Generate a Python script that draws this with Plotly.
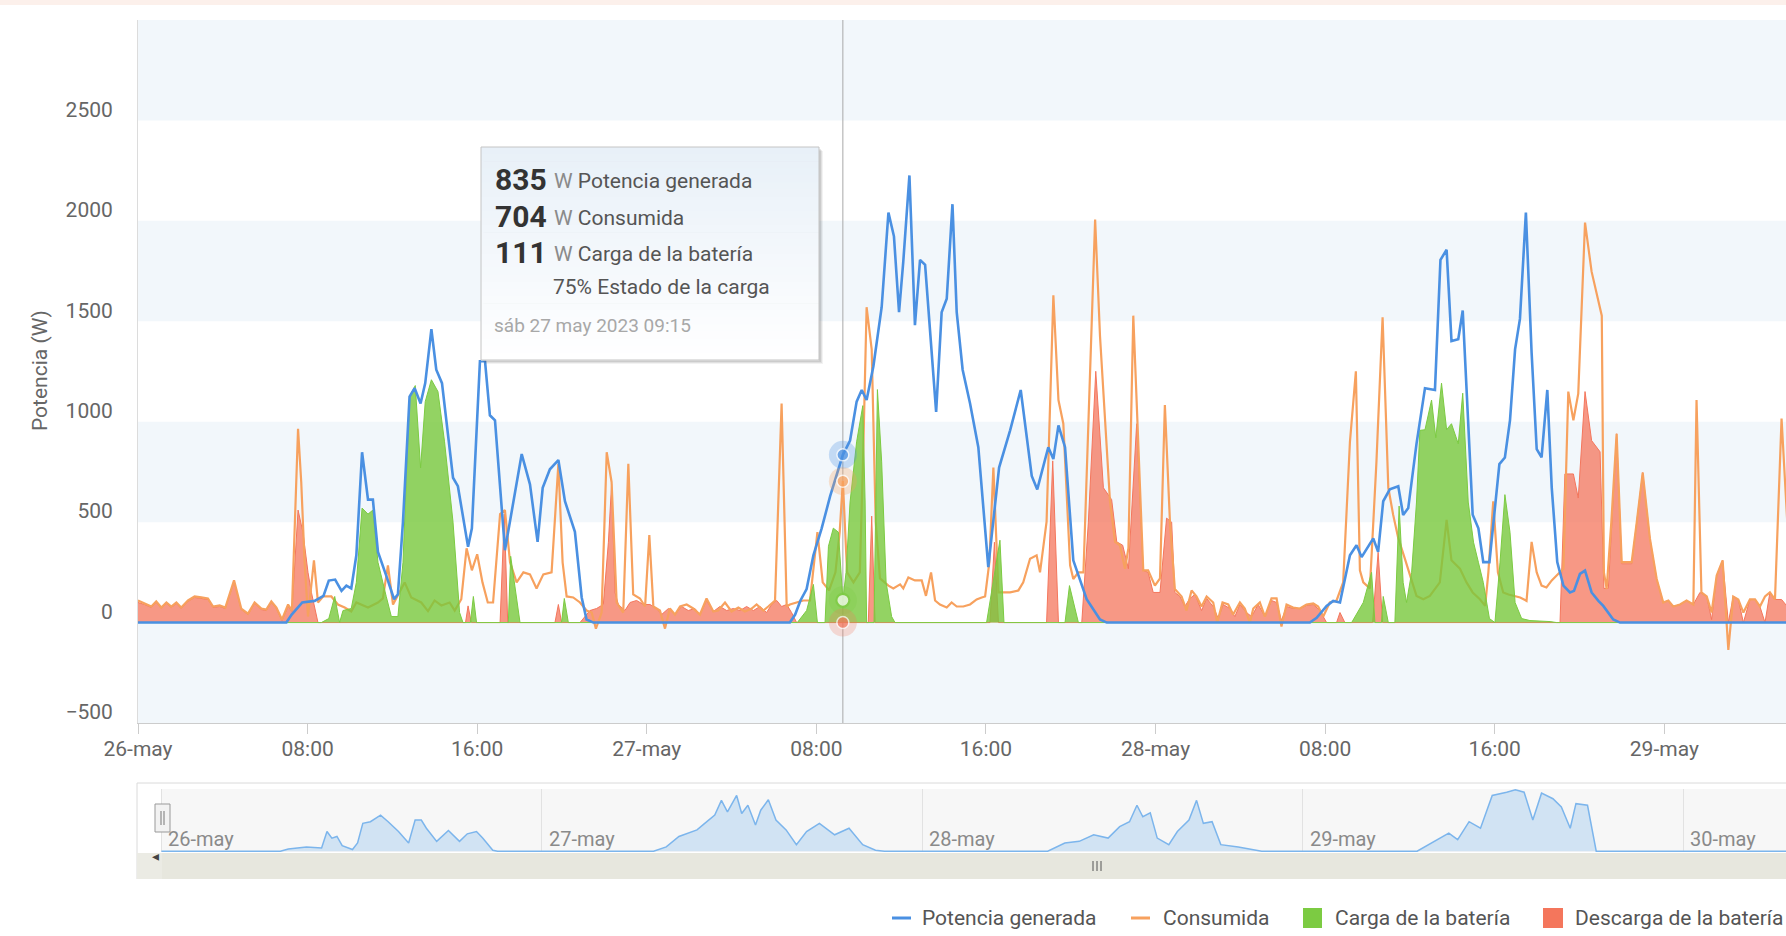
import pandas as pd
import plotly.graph_objects as go

START = pd.Timestamp("2023-05-26 00:00")

# ---------------- data (hours since 26-may 00:00, watts) ----------------
GEN_H = [0, 7.0, 7.25, 7.75, 8.33, 8.75, 9.0, 9.3, 9.6, 9.83, 10.06, 10.3, 10.57, 10.85, 11.08, 11.32, 11.71,
         12.08, 12.26, 12.5, 12.81, 13.05, 13.33, 13.55, 13.84, 14.07, 14.34, 14.86, 15.09, 15.57, 15.75, 16.13,
         16.37, 16.6, 16.84, 17.31, 18.1, 18.49, 18.85, 19.09, 19.43, 19.83, 20.14, 20.61, 20.93, 21.16, 21.48,
         30.75, 31.0, 31.25, 31.54, 31.86, 32.25, 32.65, 33.25, 33.59, 33.9, 34.14, 34.37, 34.69, 35.08, 35.4,
         35.66, 35.9, 36.1, 36.39, 36.65, 36.89, 37.13, 37.65, 37.91, 38.15, 38.42, 38.62, 38.9, 39.25, 39.64,
         40.11, 40.62, 41.14, 41.64, 42.16, 42.42, 42.94, 43.18, 43.42, 43.73, 44.12, 44.75, 45.38, 45.7,
         55.28, 55.6, 56.07, 56.38, 56.7, 57.17, 57.48, 57.72, 58.27, 58.5, 58.74, 59.05, 59.45, 59.68, 59.92,
         60.31, 60.71, 61.18, 61.44, 61.73, 61.96, 62.28, 62.49, 62.96, 63.23, 63.46, 63.75, 64.22, 64.48, 64.72,
         64.96, 65.19, 65.47, 65.74, 65.98, 66.21, 66.48, 66.69, 66.95, 67.24, 67.55, 67.74, 68.02, 68.26, 68.57,
         68.89, 69.12, 69.59, 69.91, 77.8]
GEN_W = [0, 0, 40, 100, 108, 133, 209, 214, 158, 184, 170, 335, 848, 612, 612, 352, 234,
         116, 141, 503, 1125, 1167, 1091, 1192, 1461, 1259, 1192, 721, 679, 377, 469, 1301,
         1301, 1032, 1007, 360, 839, 688, 402, 671, 763, 809, 604, 452, 125, 15, 0,
         0, 40, 110, 167, 335, 469, 629, 835, 906, 1100, 1158, 1108, 1276, 1570, 2041,
         1923, 1545, 1797, 2226, 1481, 1806, 1781, 1049, 1545, 1612, 2083, 1545, 1259, 1091, 873,
         276, 772, 957, 1158, 730, 663, 873, 814, 982, 873, 310, 116, 15, 0,
         0, 24, 83, 108, 100, 335, 385, 326, 419, 352, 604, 663, 679, 536, 570,
         890, 1167, 1158, 1806, 1856, 1402, 1411, 1554, 537, 469, 301, 301, 789, 822, 1007,
         1360, 1512, 2041, 1343, 864, 822, 1158, 671, 301, 184, 150, 158, 242, 259, 150,
         108, 83, 15, 0, 0]

CONS_H = [0, 0.31, 0.63, 0.86, 1.1, 1.34, 1.57, 1.81, 2.04, 2.36, 2.67, 2.99, 3.3, 3.54, 3.85, 4.12, 4.53, 4.87,
          5.19, 5.5, 5.82, 6.05, 6.29, 6.53, 6.79, 7.08, 7.26, 7.55, 7.7, 7.86, 8.02, 8.3, 8.49, 8.73, 9.12, 9.43,
          9.75, 10.06, 10.3, 10.85, 11.32, 11.55, 11.79, 12.03, 12.58, 12.89, 13.36, 13.68, 13.99, 14.31, 14.7,
          14.94, 15.25, 15.5, 15.75, 16.0, 16.25, 16.5, 16.75, 17.08, 17.31, 17.55, 17.86, 18.18, 18.49, 18.8,
          19.12, 19.51, 19.83, 20.03, 20.22, 20.53, 20.85, 21.16, 21.4, 21.6, 21.87, 22.11, 22.34, 22.58, 22.89,
          23.13, 23.36, 23.68, 23.92, 24.12, 24.31, 24.62, 24.86, 25.09, 25.33, 25.57, 25.88, 26.19, 26.51, 26.82,
          27.14, 27.37, 27.69, 28.0, 28.32, 28.63, 28.95, 29.18, 29.5, 29.73, 30.05, 30.36, 30.6, 30.75, 31.07,
          31.38, 31.7, 32.05, 32.3, 32.6, 32.9, 33.1, 33.25, 33.45, 33.75, 34.05, 34.2, 34.37, 34.61, 34.8, 35.0,
          35.4, 35.63, 35.95, 36.1, 36.34, 36.65, 36.97, 37.17, 37.41, 37.6, 37.83, 38.15, 38.38, 38.62, 38.93,
          39.25, 39.56, 39.8, 39.96, 40.16, 40.35, 40.59, 40.82, 41.14, 41.53, 41.76, 42.08, 42.39, 42.55, 42.86,
          43.18, 43.42, 43.65, 43.81, 43.97, 44.12, 44.36, 44.6, 44.91, 45.15, 45.38, 45.62, 45.85, 46.09, 46.32,
          46.56, 46.72, 46.95, 47.18, 47.42, 47.65, 47.97, 48.21, 48.44, 48.68, 48.91, 49.23, 49.46, 49.7, 49.93,
          50.17, 50.41, 50.72, 50.91, 51.16, 51.43, 51.66, 51.98, 52.21, 52.45, 52.61, 52.92, 53.16, 53.47, 53.71,
          53.94, 54.18, 54.49, 54.81, 55.12, 55.44, 55.67, 55.91, 56.22, 56.54, 56.85, 57.17, 57.45, 57.64, 57.8,
          58.11, 58.42, 58.71, 58.98, 59.21, 59.45, 59.76, 60.0, 60.31, 60.63, 60.94, 61.41, 61.73, 61.96, 62.36,
          62.67, 62.96, 63.3, 63.55, 63.7, 63.93, 64.15, 64.4, 64.65, 64.96, 65.2, 65.5, 65.74, 65.98, 66.21,
          66.44, 66.69, 66.92, 67.24, 67.47, 67.71, 67.94, 68.26, 68.57, 69.05, 69.15, 69.28, 69.5, 69.75, 69.99,
          70.46, 70.7, 70.98, 71.32, 71.64, 71.95, 72.19, 72.42, 72.74, 73.05, 73.37, 73.52, 73.75, 74.0, 74.23,
          74.47, 74.75, 75.02, 75.25, 75.49, 75.73, 76.04, 76.28, 76.51, 76.75, 76.98, 77.22, 77.53, 77.8]
CONS_W = [110, 95, 80, 105, 75, 100, 80, 100, 75, 110, 130, 125, 120, 80, 85, 75, 210, 70,
          45, 100, 70, 65, 105, 75, 15, 90, 60, 965, 700, 300, 30, 310, 100, 130, 130, 90,
          75, 55, 100, 75, 100, 120, 285, 90, 200, 125, 100, 57, 110, 85, 100,
          60, 116, 370, 260, 340, 200, 100, 100, 540, 560, 300, 200, 250, 240, 170,
          240, 250, 789, 300, 130, 125, 100, 60, 50, -30, 50, 848, 700, 100, 50,
          790, 140, 120, 80, 436, 80, 60, -30, 70, 40, 80, 90, 70, 40, 120,
          55, 60, 100, 55, 75, 55, 70, 90, 60, 80, 110, 1091, 80, 90, 100,
          110, 110, 450, 200, 160, 250, 450, 704, 250, 200, 250, 800, 1570, 1360, 500, 220,
          184, 170, 190, 170, 225, 210, 210, 133, 250, 110, 90, 75, 100, 80, 80,
          90, 115, 125, 130, 300, 772, 150, 150, 150, 160, 200, 318, 335, 250, 503,
          1629, 1108, 990, 671, 285, 217, 250, 250, 1200, 2007, 1427, 1007, 604, 402, 385,
          268, 370, 1528, 900, 260, 260, 184, 220, 1083, 500, 167, 130, 60, 160, 130,
          80, 130, 100, 0, 100, 90, 40, 100, 70, 0, 70, 100, 30, 120, 120,
          -20, 90, 75, 70, 90, 95, 80, 30, 100, 110, 200, 900, 1251, 260, 200,
          170, 800, 1520, 671, 536, 420, 318, 234, 133, 116, 133, 200, 511, 310, 268,
          200, 150, 116, 83, 250, 604, 250, 150, 140, 133, 125, 108, 402, 250, 184,
          175, 210, 234, 268, 1150, 1007, 1140, 1991, 1747, 1528, 250, 167, 500, 940, 301,
          301, 500, 747, 419, 217, 100, 110, 80, 90, 110, 90, 1108, 150, 130, 50,
          234, 310, -136, 130, 115, 50, 115, 115, 80, 130, 150, 115, 1016, 500]

CHG_H = [0, 8.65, 9.0, 9.28, 9.51, 9.67, 10.06, 10.3, 10.57, 10.85, 11.08, 11.32, 11.71, 11.95, 12.26, 12.5,
         12.81, 13.08, 13.33, 13.55, 13.84, 14.15, 14.46, 14.86, 15.17, 15.33, 15.68, 15.82, 15.97, 17.47, 17.58,
         18.02, 19.98, 20.11, 20.3, 31.1, 31.54, 31.86, 32.05, 32.41, 32.57, 32.8, 33.04, 33.25, 33.4, 33.59,
         33.9, 34.19, 34.3, 34.37, 34.72, 34.88, 35.08, 35.29, 35.55, 35.71, 40.03, 40.66, 40.85, 43.73, 43.94,
         44.36, 57.25, 57.8, 58.19, 58.35, 58.66, 58.74, 58.98, 59.29, 59.49, 59.68, 59.84, 60.08, 60.31, 60.47,
         60.71, 61.02, 61.22, 61.49, 61.73, 61.96, 62.28, 62.49, 62.75, 63.0, 63.23, 63.46, 63.75, 64.01, 64.25,
         64.48, 64.72, 64.96, 65.27, 65.66, 66.61, 66.92, 77.8]
CHG_W = [0, 0, 20, 130, 0, 60, 70, 200, 570, 540, 560, 300, 130, 30, 30, 300,
         1125, 1180, 770, 1100, 1209, 1150, 900, 500, 50, 0, 0, 130, 0, 0, 330,
         0, 0, 120, 0, 0, 60, 190, 0, 0, 380, 470, 450, 111, 250, 600,
         900, 1080, 600, 0, 0, 1160, 800, 200, 30, 0, 0, 410, 0, 0, 184,
         0, 0, 100, 250, 0, 0, 130, 0, 0, 580, 200, 100, 250, 600, 957,
         960, 1108, 920, 1192, 960, 990, 890, 1142, 600, 400, 300, 200, 20, 0, 300,
         637, 450, 100, 20, 10, 5, 0, 0]

DIS_H = [0, 0.31, 0.63, 0.86, 1.1, 1.34, 1.57, 1.81, 2.04, 2.36, 2.67, 2.99, 3.3, 3.54, 3.85, 4.12, 4.53, 4.87,
         5.19, 5.5, 5.82, 6.05, 6.29, 6.53, 6.79, 7.08, 7.26, 7.55, 7.78, 8.02, 8.18, 8.49, 15.45, 15.57, 15.72,
         17.08, 17.28, 17.44, 19.67, 19.83, 19.98, 20.85, 21.08, 21.32, 21.63, 21.95, 22.19, 22.34, 22.5, 22.66,
         22.97, 23.21, 23.52, 23.84, 24.15, 24.47, 24.7, 25.02, 25.33, 25.64, 25.96, 26.27, 26.51, 26.82, 27.14,
         27.45, 27.77, 28.08, 28.4, 28.71, 29.03, 29.34, 29.65, 29.89, 30.13, 30.36, 30.6, 30.83, 31.07, 34.45,
         34.61, 34.77, 40.19, 40.4, 40.59, 42.86, 43.15, 43.42, 44.52, 44.83, 45.18, 45.54, 45.93, 46.17, 46.45,
         46.72, 47.11, 47.42, 47.65, 47.89, 48.21, 48.52, 48.76, 48.91, 49.15, 49.38, 49.62, 49.86, 50.17, 50.41,
         50.72, 50.96, 51.19, 51.51, 51.74, 51.98, 52.29, 52.53, 52.84, 53.16, 53.47, 53.71, 53.94, 54.18, 54.49,
         54.81, 55.12, 55.44, 55.75, 56.07, 56.54, 56.7, 56.93, 58.24, 58.5, 58.71, 67.08, 67.31, 67.71, 67.94,
         68.26, 68.57, 68.97, 69.15, 69.36, 69.75, 69.99, 70.46, 70.98, 71.32, 71.64, 71.95, 72.19, 72.42, 72.74,
         73.05, 73.37, 73.68, 74.0, 74.23, 74.47, 74.75, 75.02, 75.25, 75.49, 75.73, 76.04, 76.28, 76.51, 76.75,
         76.98, 77.22, 77.53, 77.8]
DIS_W = [100, 90, 75, 100, 70, 95, 75, 95, 70, 105, 125, 120, 115, 75, 80, 70, 205, 65,
         40, 95, 65, 60, 100, 70, 10, 80, 55, 560, 450, 250, 150, 0, 0, 83, 0,
         0, 540, 0, 0, 90, 0, 0, 30, 60, 70, 90, 400, 690, 150, 90,
         60, 100, 110, 90, 90, 70, 40, 70, 40, 80, 60, 70, 40, 110, 55,
         80, 60, 70, 60, 80, 60, 80, 50, 90, 110, 80, 90, 50, 0, 0,
         530, 0, 0, 400, 0, 0, 805, 0, 0, 500, 1251, 671, 612, 402, 385,
         268, 990, 260, 250, 150, 150, 520, 500, 150, 130, 80, 120, 140, 60, 120,
         80, 20, 90, 70, 30, 90, 50, 30, 90, 30, 110, 100, 10, 80, 70,
         70, 85, 90, 60, 0, 0, 50, 0, 0, 350, 0, 0, 740, 740, 620,
         1150, 906, 850, 170, 170, 940, 293, 293, 747, 419, 217, 100, 110, 80, 90,
         110, 90, 150, 130, 15, 234, 310, 0, 130, 115, 0, 115, 115, 80, 0,
         150, 115, 115, 80]

NAV_H = [0, 7.5, 8.0, 9.15, 10.1, 10.44, 10.75, 11.07, 11.4, 12.05, 12.37, 12.7, 13.18, 13.82, 14.3, 14.95,
         15.59, 16.0, 16.39, 16.71, 17.36, 18.1, 18.8, 19.29, 19.87, 20.26, 20.9, 21.2, 31.04, 31.84, 32.64,
         33.78, 34.4, 34.9, 35.32, 35.7, 36.28, 36.6, 36.99, 37.47, 37.8, 38.28, 38.76, 39.4, 40.05, 40.69,
         41.5, 42.46, 43.37, 44.23, 45.04, 45.6, 55.9, 56.98, 57.89, 58.8, 59.71, 60.44, 61.06, 61.53, 61.9,
         62.37, 62.81, 63.54, 64.08, 64.81, 65.29, 65.72, 66.27, 66.82, 67.92, 68.7, 69.4, 79.2, 80.48, 81.2,
         81.76, 82.48, 83.2, 83.94, 84.85, 85.4, 85.95, 86.5, 87.05, 87.77, 88.3, 88.86, 89.22, 89.95, 90.5,
         102.5]
NAV_W = [0, 0, 70, 135, 100, 620, 413, 465, 176, 52, 258, 878, 930, 1137, 930, 620,
         258, 982, 982, 723, 310, 651, 310, 548, 620, 413, 31, 0, 0, 135, 465,
         672, 930, 1137, 1602, 1240, 1757, 1188, 1447, 827, 1292, 1623, 982, 672, 207, 620,
         878, 517, 723, 207, 31, 0, 0, 258, 310, 517, 413, 775, 930, 1447, 1085,
         1209, 413, 207, 620, 982, 1602, 878, 930, 207, 135, 52, 0, 0, 362, 568,
         362, 930, 723, 1757, 1860, 1932, 1860, 982, 1829, 1653, 1395, 723, 1498, 1447, 0,
         0]

X_TICK_H = [0, 8, 16, 24, 32, 40, 48, 56, 64, 72]
X_TICK_TEXT = ["26-may", "08:00", "16:00", "27-may", "08:00", "16:00", "28-may", "08:00", "16:00", "29-may"]
Y_TICKS = [-500, 0, 500, 1000, 1500, 2000, 2500]
Y_TICK_TEXT = ["\u2212500", "0", "500", "1000", "1500", "2000", "2500"]
BANDS = [-500, 500, 1500, 2500]
NAV_DAY_H = [0, 24, 48, 72, 96]
NAV_DAY_TEXT = ["26-may", "27-may", "28-may", "29-may", "30-may"]

VIEW_H = [0, 77.74]
NAV_VIEW_H = [-1.48, 102.47]

SERIES = ["Potencia generada", "Consumida", "Carga de la batería", "Descarga de la batería"]
TIP_H = 33.25
TIP_VALUES = [835, 704, 111]
TIP_DIS = 0
TIP_SOC = 75
TIP_DATE = "sáb 27 may 2023 09:15"

# ---------------- styling ----------------
BLUE = "#4A90E2"
ORANGE = "#F7A15E"
GREEN = "#7CCB42"
RED = "#F4765C"
FONT = "Roboto, 'Open Sans', sans-serif"
GRAY_TXT = "#666666"

W, H = 1786, 936
L, R, T, B = 138, 0, 20, 84
PW, PH = W - L - R, H - T - B


def px(x):
    return (x - L) / PW


def py(y):
    return (H - B - y) / PH


def ts(hours):
    return [START + pd.Timedelta(hours=h) for h in hours]


fig = go.Figure()

# discharge area
fig.add_trace(go.Scatter(x=ts(DIS_H), y=DIS_W, mode="lines", fill="tozeroy", name=SERIES[3],
                         line=dict(color=RED, width=1), fillcolor="rgba(244,118,92,0.75)",
                         showlegend=False, hoverinfo="skip"))
# consumption line
fig.add_trace(go.Scatter(x=ts(CONS_H), y=CONS_W, mode="lines", name=SERIES[1],
                         line=dict(color=ORANGE, width=2.2), showlegend=False, hoverinfo="skip"))
# charge area
fig.add_trace(go.Scatter(x=ts(CHG_H), y=CHG_W, mode="lines", fill="tozeroy", name=SERIES[2],
                         line=dict(color=GREEN, width=1), fillcolor="rgba(120,200,60,0.80)",
                         showlegend=False, hoverinfo="skip"))
# generation line
fig.add_trace(go.Scatter(x=ts(GEN_H), y=GEN_W, mode="lines", name=SERIES[0],
                         line=dict(color=BLUE, width=2.6), showlegend=False, hoverinfo="skip"))

# hover markers at the tooltip time
tip_t = ts([TIP_H])[0]
tip_vals = TIP_VALUES + [TIP_DIS]
halo_cols = ["rgba(74,144,226,0.28)", "rgba(247,161,94,0.28)", "rgba(124,203,66,0.25)", "rgba(244,118,92,0.25)"]
fig.add_trace(go.Scatter(x=[tip_t] * 4, y=tip_vals, mode="markers", showlegend=False, hoverinfo="skip",
                         marker=dict(size=28, color=halo_cols, line=dict(width=0)), cliponaxis=False))
fig.add_trace(go.Scatter(x=[tip_t] * 4, y=tip_vals, mode="markers", showlegend=False, hoverinfo="skip",
                         marker=dict(size=[12, 12, 13, 12], color=[BLUE, ORANGE, "#ffffff", RED],
                                     line=dict(width=[1.5, 1.5, 2.2, 1.5],
                                               color=["#ffffff", "#ffffff", GREEN, "#ffffff"])),
                         cliponaxis=False))

# navigator series
fig.add_trace(go.Scatter(x=ts(NAV_H), y=NAV_W, mode="lines", fill="tozeroy", xaxis="x2", yaxis="y2",
                         line=dict(color="#7CB5EC", width=1.5), fillcolor="rgba(124,181,236,0.30)",
                         showlegend=False, hoverinfo="skip"))

shapes = []
# top strip
shapes.append(dict(type="rect", xref="paper", yref="paper", x0=px(0), x1=px(W), y0=py(5), y1=py(0),
                   fillcolor="#FCF0EB", line=dict(width=0), layer="below"))
# alternating bands
for lo in BANDS:
    shapes.append(dict(type="rect", xref="paper", yref="y", x0=0, x1=1, y0=lo, y1=lo + 500,
                       fillcolor="#F2F7FB", line=dict(width=0), layer="below"))
# crosshair
shapes.append(dict(type="line", xref="x", yref="paper", x0=tip_t, x1=tip_t, y0=py(723), y1=1,
                   line=dict(color="#A8A8A8", width=1), layer="below"))

# navigator frame
shapes.append(dict(type="rect", xref="paper", yref="paper", x0=px(162), x1=px(W), y0=py(852), y1=py(789),
                   fillcolor="#F7F7F7", line=dict(width=0), layer="below"))
shapes.append(dict(type="line", xref="paper", yref="paper", x0=px(137), x1=px(W), y0=py(783), y1=py(783),
                   line=dict(color="#DADADA", width=1)))
shapes.append(dict(type="line", xref="paper", yref="paper", x0=px(137), x1=px(137), y0=py(879), y1=py(783),
                   line=dict(color="#DADADA", width=1)))
# scrollbar
shapes.append(dict(type="rect", xref="paper", yref="paper", x0=px(137), x1=px(W), y0=py(879), y1=py(853),
                   fillcolor="#E7E7DE", line=dict(width=0)))
shapes.append(dict(type="rect", xref="paper", yref="paper", x0=px(137), x1=px(162), y0=py(879), y1=py(853),
                   fillcolor="#EBEBE4", line=dict(width=0)))
# navigator handle
shapes.append(dict(type="rect", xref="paper", yref="paper", x0=px(155), x1=px(170), y0=py(832), y1=py(804),
                   fillcolor="#F2F2F2", line=dict(color="#999999", width=1)))
for hx in (161, 164):
    shapes.append(dict(type="line", xref="paper", yref="paper", x0=px(hx), x1=px(hx), y0=py(825), y1=py(811),
                       line=dict(color="#777777", width=1)))
# scrollbar grip
for gx in (1093, 1097, 1101):
    shapes.append(dict(type="line", xref="paper", yref="paper", x0=px(gx), x1=px(gx), y0=py(871), y1=py(861),
                       line=dict(color="#555555", width=1)))

# tooltip: shadow, gradient body, border
bx0, by0, bx1, by1 = 481, 147, 819, 360
for off, a in ((4, 0.05), (3, 0.07), (2, 0.09)):
    shapes.append(dict(type="rect", xref="paper", yref="paper", x0=px(bx0 + off), x1=px(bx1 + off),
                       y0=py(by1 + off), y1=py(by0 + off), fillcolor="rgba(0,0,0,%s)" % a,
                       line=dict(width=0), layer="above"))
N = 30
c0, c1 = (232, 240, 248), (255, 255, 255)
for i in range(N):
    f = i / (N - 1)
    col = tuple(int(round(c0[k] + (c1[k] - c0[k]) * f)) for k in range(3))
    ya = by0 + (by1 - by0) * i / N
    yb = by0 + (by1 - by0) * (i + 1) / N
    shapes.append(dict(type="rect", xref="paper", yref="paper", x0=px(bx0), x1=px(bx1),
                       y0=py(yb + 0.6), y1=py(ya), fillcolor="rgb(%d,%d,%d)" % col,
                       line=dict(width=0), layer="above"))
shapes.append(dict(type="rect", xref="paper", yref="paper", x0=px(bx0), x1=px(bx1), y0=py(by1), y1=py(by0),
                   fillcolor="rgba(0,0,0,0)", line=dict(color="#C4C4C4", width=1), layer="above"))

# custom legend symbols
LEG_Y = 918
shapes.append(dict(type="line", xref="paper", yref="paper", x0=px(892), x1=px(911), y0=py(LEG_Y), y1=py(LEG_Y),
                   line=dict(color=BLUE, width=3)))
shapes.append(dict(type="line", xref="paper", yref="paper", x0=px(1131), x1=px(1150), y0=py(LEG_Y), y1=py(LEG_Y),
                   line=dict(color=ORANGE, width=3)))
shapes.append(dict(type="rect", xref="paper", yref="paper", x0=px(1303), x1=px(1322), y0=py(928), y1=py(908),
                   fillcolor=GREEN, line=dict(width=0)))
shapes.append(dict(type="rect", xref="paper", yref="paper", x0=px(1543), x1=px(1563), y0=py(928), y1=py(908),
                   fillcolor=RED, line=dict(width=0)))

ann = []
# y-axis title
ann.append(dict(xref="paper", yref="paper", x=px(40), y=py(371), text="Potencia (W)", textangle=-90,
                xanchor="center", yanchor="middle", showarrow=False,
                font=dict(family=FONT, size=21, color=GRAY_TXT)))
# legend texts
for x0, txt in zip([920, 1161, 1333, 1573], SERIES):
    ann.append(dict(xref="paper", yref="paper", x=px(x0), y=py(LEG_Y), text=txt, showarrow=False,
                    xanchor="left", yanchor="middle", font=dict(family=FONT, size=21, color="#555555")))
# navigator day labels
for h, txt in zip(NAV_DAY_H, NAV_DAY_TEXT):
    ann.append(dict(xref="x2", yref="paper", x=ts([h])[0], y=py(839), text=txt, showarrow=False,
                    xanchor="left", yanchor="middle", xshift=5,
                    font=dict(family=FONT, size=20, color="#8A8A8A")))
# scrollbar arrow
ann.append(dict(xref="paper", yref="paper", x=px(150), y=py(866), text="\u25C2", showarrow=False,
                font=dict(family="DejaVu Sans", size=14, color="#444444")))
# tooltip text
rows_y = [179, 216, 252]
for yv, val, name in zip(rows_y, TIP_VALUES, SERIES[:3]):
    ann.append(dict(xref="paper", yref="paper", x=px(493), y=py(yv), text="<b>%d</b>" % val, showarrow=False,
                    xanchor="left", yanchor="middle", font=dict(family=FONT, size=30, color="#333333")))
    ann.append(dict(xref="paper", yref="paper", x=px(552), y=py(yv + 2),
                    text="<span style='color:#8a8a8a'>W</span> " + name, showarrow=False,
                    xanchor="left", yanchor="middle", font=dict(family=FONT, size=21, color="#555555")))
ann.append(dict(xref="paper", yref="paper", x=px(551), y=py(287), text="%d%% Estado de la carga" % TIP_SOC,
                showarrow=False, xanchor="left", yanchor="middle",
                font=dict(family=FONT, size=21, color="#555555")))
ann.append(dict(xref="paper", yref="paper", x=px(492), y=py(325), text=TIP_DATE, showarrow=False,
                xanchor="left", yanchor="middle", font=dict(family=FONT, size=19, color="#A8A8A8")))

fig.update_layout(
    width=W, height=H,
    margin=dict(l=L, r=R, t=T, b=B, autoexpand=False),
    paper_bgcolor="#ffffff", plot_bgcolor="rgba(0,0,0,0)",
    showlegend=False,
    font=dict(family=FONT, color=GRAY_TXT),
    xaxis=dict(domain=[0, 1], range=ts(VIEW_H), type="date", tickmode="array", tickvals=ts(X_TICK_H),
               ticktext=X_TICK_TEXT, showgrid=False, zeroline=False, showline=True, linecolor="#CCCCCC",
               linewidth=1, ticks="outside", ticklen=10, tickcolor="#CCCCCC", ticklabelstandoff=-3,
               tickfont=dict(family=FONT, size=21, color=GRAY_TXT), anchor="y", fixedrange=True),
    yaxis=dict(domain=[py(723), 1], range=[-500, 3000], tickmode="array", tickvals=Y_TICKS,
               ticktext=Y_TICK_TEXT, showgrid=False, zeroline=False, showline=True, linecolor="#DCDCDC",
               linewidth=1, ticks="", ticklabelstandoff=20, ticklabelshift=-11,
               tickfont=dict(family=FONT, size=21, color=GRAY_TXT), anchor="x", fixedrange=True),
    xaxis2=dict(domain=[0, 1], range=ts(NAV_VIEW_H), type="date", tickmode="array", tickvals=ts(NAV_DAY_H),
                showticklabels=False, showgrid=True, gridcolor="#E2E2E2", gridwidth=1, zeroline=False,
                showline=False, ticks="", anchor="y2", fixedrange=True),
    yaxis2=dict(domain=[0, py(789)], range=[-25, 1960], showticklabels=False, showgrid=False,
                zeroline=False, showline=False, ticks="", anchor="x2", fixedrange=True),
    shapes=shapes,
    annotations=ann,
)

fig.write_html("out.html", config={"displayModeBar": False},
               post_script="document.body.style.margin='0';document.body.style.padding='0';"
                           "document.body.style.overflow='hidden';")
